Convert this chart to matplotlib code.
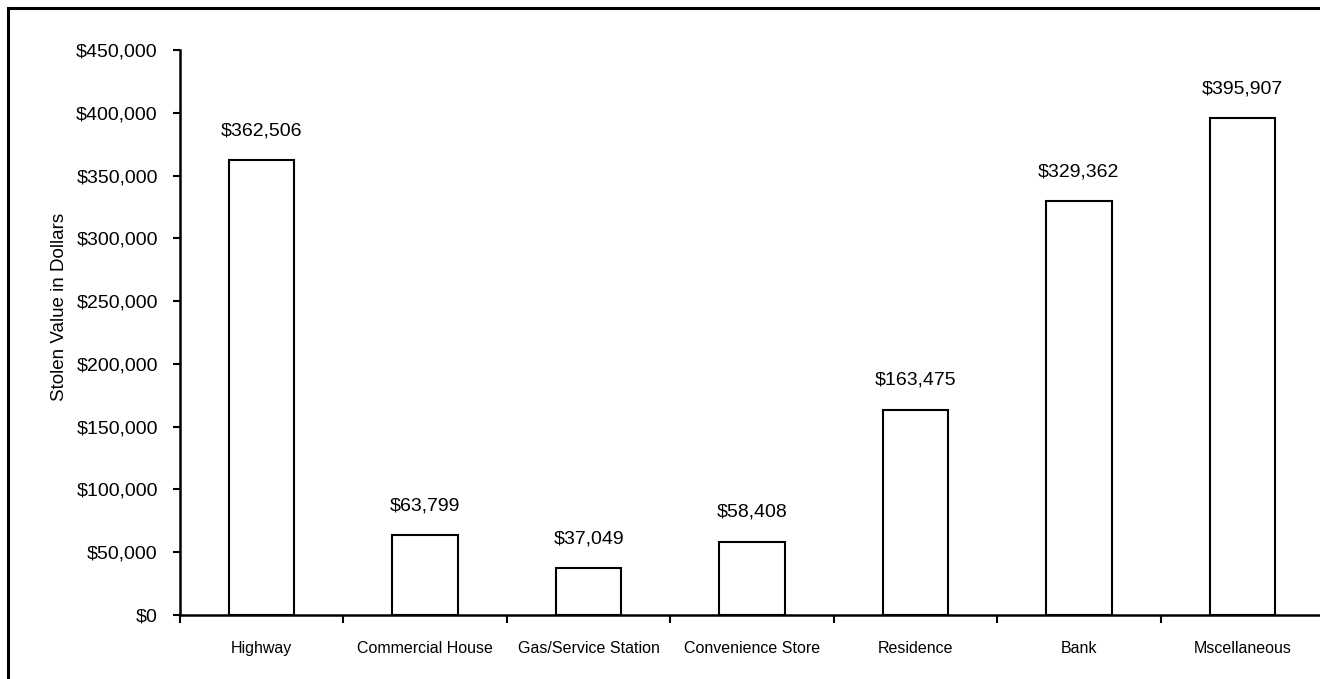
import numpy as np
import matplotlib
matplotlib.use("Agg")
from matplotlib import pyplot as plt
from matplotlib.patches import Rectangle
from matplotlib.ticker import FuncFormatter, FixedLocator

categories = ["Highway", "Commercial House", "Gas/Service Station", "Convenience Store",
              "Residence", "Bank", "Mscellaneous"]
values = [362506, 63799, 37049, 58408, 163475, 329362, 395907]
y_ticks = [0, 50000, 100000, 150000, 200000, 250000, 300000, 350000, 400000, 450000]

plt.rcParams['font.family'] = ['Liberation Sans', 'DejaVu Sans']

W, H = 1320, 679
fig = plt.figure(figsize=(W / 100, H / 100), dpi=100)
ax = fig.add_axes([180 / W, 1 - 615 / H, 1144 / W, 565 / H])

x = np.arange(len(categories))
ax.bar(x, values, width=0.4, color="white", edgecolor="black", linewidth=1.5, zorder=3)

for xi, v in zip(x, values):
    ax.annotate(f"${v:,}", (xi, v), xytext=(0, 15), textcoords="offset points",
                ha="center", va="bottom", fontsize=14)

ax.set_xlim(-0.5, len(categories) - 0.5)
ax.set_ylim(0, 450000)
ax.set_yticks(y_ticks)
ax.yaxis.set_major_formatter(FuncFormatter(lambda v, p: f"${int(v):,}"))
ax.tick_params(axis="y", direction="out", length=5, width=1.5, labelsize=14, pad=11)

# category boundaries get the tick marks, centres get the labels
ax.xaxis.set_major_locator(FixedLocator(np.arange(len(categories) + 1) - 0.5))
ax.xaxis.set_major_formatter(FuncFormatter(lambda v, p: ""))
ax.xaxis.set_minor_locator(FixedLocator(x))
ax.set_xticklabels(categories, minor=True)
ax.tick_params(axis="x", which="major", direction="out", length=6, width=1.5)
ax.tick_params(axis="x", which="minor", length=0, labelsize=11.5, pad=19)

for s in ["top", "right"]:
    ax.spines[s].set_visible(False)
for s in ["left", "bottom"]:
    ax.spines[s].set_linewidth(1.8)

ax.set_ylabel("Stolen Value in Dollars", fontsize=13.5)
ax.yaxis.set_label_coords(-0.098, 0.545)

fig.patches.append(Rectangle((8 / W, -0.1), 1.2, (H - 8) / H + 0.1, transform=fig.transFigure,
                             fill=False, edgecolor="black", linewidth=2.2, clip_on=False))

fig.savefig("out.png", dpi=100)
